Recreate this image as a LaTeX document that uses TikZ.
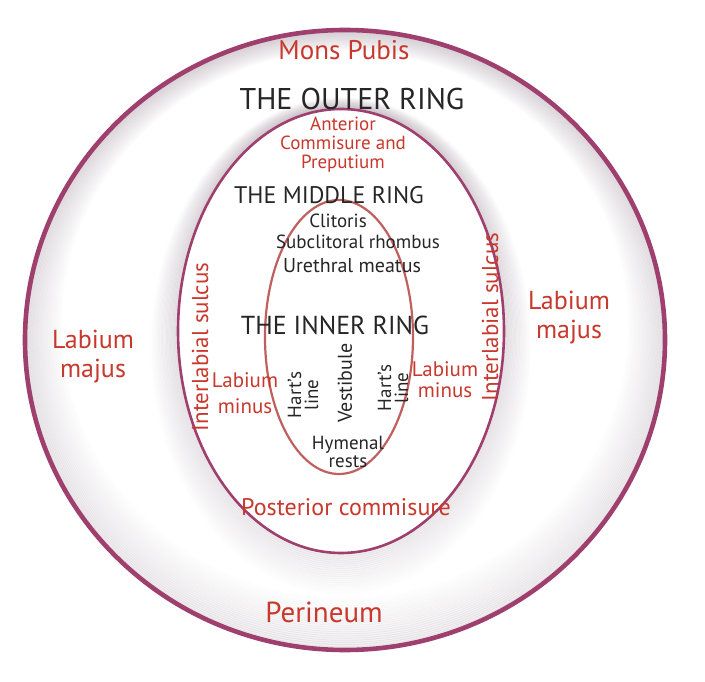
\documentclass[tikz,border=0pt]{standalone}
\usepackage{fontspec}
\setmainfont{PT Sans}
\definecolor{ringpurple}{HTML}{9E3F6E}
\definecolor{ringsoft}{HTML}{948090}
\definecolor{innerred}{HTML}{C0605E}
\definecolor{labred}{HTML}{C8382C}
\tikzset{
  redlab/.style={text=labred, inner sep=0pt, align=center},
  blacklab/.style={text=black!85, inner sep=0pt, align=center},
  fsz/.style={font=\fontsize{#1}{#1}\selectfont},
  ringline/.style={draw=ringpurple, line width=4.6pt},
  shadeband/.style={draw=ringsoft, line width=3pt}
}
\begin{document}
\begin{tikzpicture}[x=1pt,y=-1pt]
\useasboundingbox (0,0) rectangle (705,682);
\fill[white] (0,0) rectangle (705,682);
% ---- outer ring shading (inside) ----
\foreach \i in {1,...,24}{
  \pgfmathsetmacro\op{0.13*(1-\i/25)}
  \draw[shadeband, opacity=\op] (345,{340-0.65*\i}) ellipse [x radius={320pt-1.5pt*\i}, y radius={310pt-1.5pt*\i}];
}
% ---- middle ring shading (outside) ----
\foreach \i in {1,...,20}{
  \pgfmathsetmacro\op{0.12*(1-\i/21)}
  \draw[shadeband, opacity=\op] (341,{331+0.75*\i}) ellipse [x radius={163pt+1.3pt*\i}, y radius={222pt+1.3pt*\i}];
}
% ---- ring outlines ----
\draw[ringline] (345,340) ellipse [x radius=320pt, y radius=310pt];
\draw[draw=ringpurple, line width=2.6pt] (341,331) ellipse [x radius=163pt, y radius=222pt];
\draw[draw=innerred, line width=2.2pt] (339,337) ellipse [x radius=74pt, y radius=137pt];
% ---- outer ring labels ----
\node[redlab, fsz=27] (mons) at (344,50) {Mons Pubis};
\node[blacklab, fsz=30] (outer) at (352,99) {THE OUTER RING};
\node[redlab, font=\fontsize{19}{19}\selectfont] (ant) at (343,145) {Anterior\\Commisure and\\Preputium};
\node[redlab, font=\fontsize{26}{29}\selectfont] (majl) at (93,357) {Labium\\majus};
\node[redlab, font=\fontsize{26}{29}\selectfont] (majr) at (569,318) {Labium\\majus};
\node[redlab, fsz=29] (peri) at (324,612) {Perineum};
% ---- middle ring labels ----
\node[blacklab, fsz=24] (middle) at (329,195) {THE MIDDLE RING};
\node[redlab, fsz=23, rotate=90] (sull) at (200,347) {Interlabial sulcus};
\node[redlab, fsz=23, rotate=90] (sulr) at (490,317) {Interlabial sulcus};
\node[redlab, font=\fontsize{21}{26}\selectfont] (minl) at (245,393) {Labium\\minus};
\node[redlab, font=\fontsize{21}{21}\selectfont] (minr) at (445,380) {Labium\\minus};
\node[redlab, fsz=24] (post) at (346,507) {Posterior commisure};
% ---- inner ring labels ----
\node[blacklab, fsz=19] (clit) at (338,221) {Clitoris};
\node[blacklab, fsz=19] (sub) at (358,242) {Subclitoral rhombus};
\node[blacklab, fsz=20] (ure) at (352,266) {Urethral meatus};
\node[blacklab, fsz=26] (inner) at (335,325) {THE INNER RING};
\node[blacklab, rotate=90, font=\fontsize{19}{17}\selectfont] (hartl) at (303,395) {Hart's\\line};
\node[blacklab, rotate=90, fsz=20] (vest) at (345,383) {Vestibule};
\node[blacklab, rotate=90, font=\fontsize{19}{17}\selectfont] (hartr) at (393,388) {Hart's\\line};
\node[blacklab, font=\fontsize{19}{18}\selectfont] (hym) at (348,452) {Hymenal\\rests};
\end{tikzpicture}
\end{document}
